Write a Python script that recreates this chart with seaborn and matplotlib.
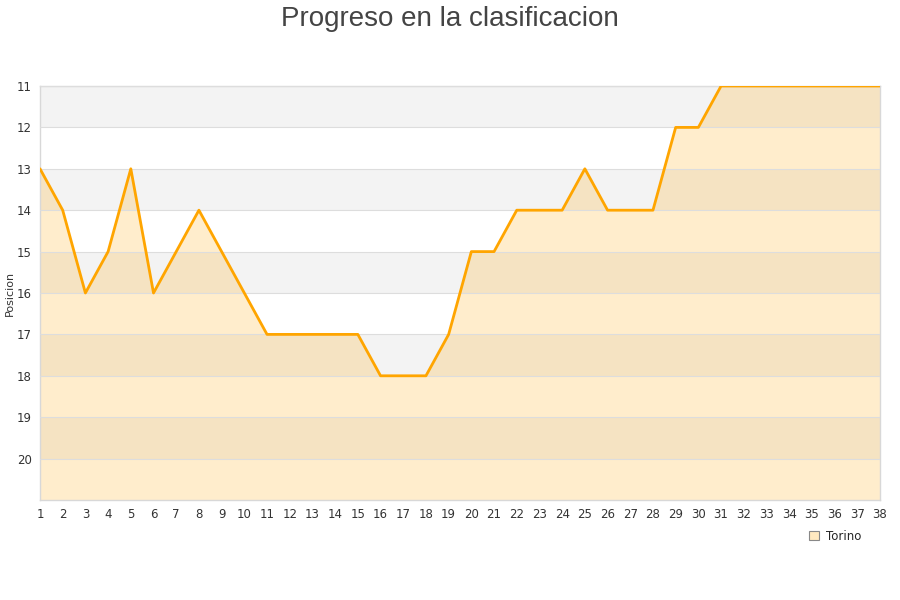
import matplotlib
matplotlib.use("Agg")
import matplotlib.pyplot as plt
import seaborn as sns
import pandas as pd
from matplotlib.patches import Patch

jornadas = list(range(1, 39))
posiciones = [13, 14, 16, 15, 13, 16, 15, 14, 15, 16,
              17, 17, 17, 17, 17, 18, 18, 18, 17, 15,
              15, 14, 14, 14, 13, 14, 14, 14, 12, 12,
              11, 11, 11, 11, 11, 11, 11, 11]
y_ticks = list(range(11, 21))
equipo = "Torino"
titulo = "Progreso en la clasificacion"
y_label = "Posicion"

df = pd.DataFrame({"jornada": jornadas, "posicion": posiciones})

sns.set_style("white")
plt.rcParams["font.family"] = ["DejaVu Sans"]
fig = plt.figure(figsize=(9, 6), dpi=100)
ax = fig.add_axes([40/900, 1-500/600, 840/900, 414/600])

# alternating bands
for i, lo in enumerate(range(11, 21)):
    if i % 2 == 0:
        ax.axhspan(lo, lo + 1, color="#f3f3f3", zorder=0, lw=0)

ax.fill_between(df["jornada"], df["posicion"], 21, color="#FFA500", alpha=0.2, lw=0, zorder=1)
sns.lineplot(data=df, x="jornada", y="posicion", ax=ax, color="#FFA500", lw=2, zorder=3)

ax.set_xlim(1, 38)
ax.set_ylim(21, 11)
ax.set_xticks(jornadas)
ax.set_yticks(y_ticks)
ax.grid(axis="y", color="#dddddd", lw=0.8, zorder=2)
ax.set_axisbelow(False)
ax.tick_params(axis="both", length=0, labelsize=8.5, colors="#333333", pad=6)
ax.set_xlabel("")
ax.set_ylabel(y_label, fontsize=8, color="#333333")
ax.yaxis.set_label_coords(-0.03, 0.5)
for s in ax.spines.values():
    s.set_color("#d8d8d8")
    s.set_linewidth(1)

fig.suptitle(titulo, y=0.99, fontsize=20, color="#444444", family="Liberation Sans")

handle = Patch(facecolor="#FFE9C0", edgecolor="#888888", lw=0.8)
fig.legend([handle], [equipo], loc="center", bbox_to_anchor=(0.928, 1-536/600),
           frameon=False, fontsize=8.5, handlelength=0.8, handleheight=0.8, handletextpad=0.6)

fig.savefig("out.png", dpi=100)
